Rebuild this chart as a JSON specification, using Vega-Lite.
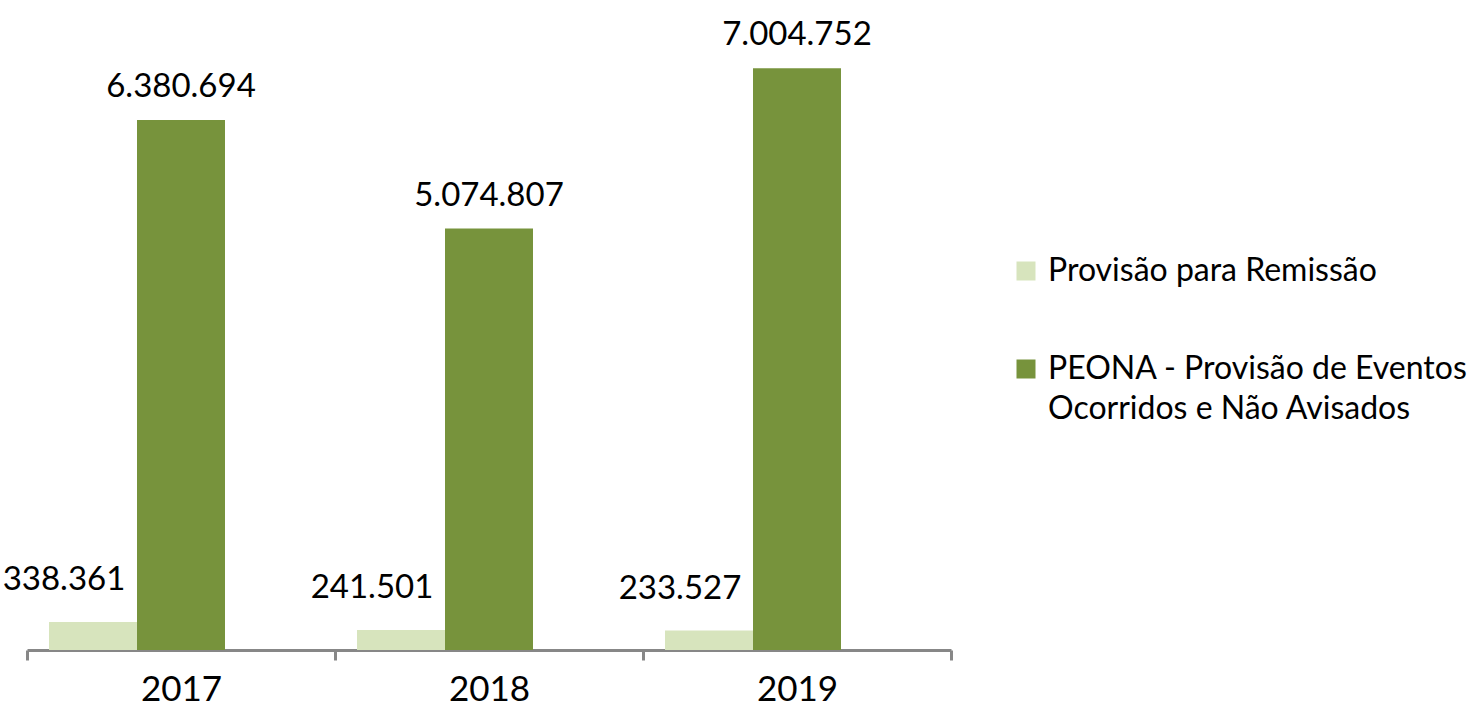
{
  "$schema": "https://vega.github.io/schema/vega-lite/v6.json",
  "autosize": {"type": "none"},
  "padding": {"left": 27, "top": 0, "right": 530, "bottom": 56},
  "width": 924,
  "height": 650,
  "background": "white",
  "config": {
    "view": {"stroke": null},
    "font": "Lato",
    "text": {"font": "Lato"},
    "style": {"guide-label": {"lineHeight": 40}}
  },
  "data": {
    "values": [
      {"ano": "2017", "serie": "Provisão para Remissão", "valor": 338361, "rotulo": "338.361"},
      {"ano": "2017", "serie": "PEONA - Provisão de Eventos Ocorridos e Não Avisados", "valor": 6380694, "rotulo": "6.380.694"},
      {"ano": "2018", "serie": "Provisão para Remissão", "valor": 241501, "rotulo": "241.501"},
      {"ano": "2018", "serie": "PEONA - Provisão de Eventos Ocorridos e Não Avisados", "valor": 5074807, "rotulo": "5.074.807"},
      {"ano": "2019", "serie": "Provisão para Remissão", "valor": 233527, "rotulo": "233.527"},
      {"ano": "2019", "serie": "PEONA - Provisão de Eventos Ocorridos e Não Avisados", "valor": 7004752, "rotulo": "7.004.752"}
    ]
  },
  "encoding": {
    "x": {
      "field": "ano", "type": "nominal",
      "scale": {"paddingInner": 0, "paddingOuter": 0},
      "axis": {
        "title": null, "labelAngle": 0, "labelFontSize": 35, "labelColor": "#000000",
        "labelPadding": 12, "domainColor": "#878787", "domainWidth": 3,
        "tickColor": "#878787", "tickWidth": 3, "tickSize": 10, "tickBand": "extent",
        "labelFont": "Lato"
      }
    },
    "xOffset": {
      "field": "serie", "type": "nominal",
      "scale": {"domain": ["Provisão para Remissão", "PEONA - Provisão de Eventos Ocorridos e Não Avisados", "vazio"], "paddingInner": 0, "paddingOuter": 0.25}
    },
    "y": {
      "field": "valor", "type": "quantitative",
      "scale": {"domain": [0, 7826000], "nice": false, "zero": true},
      "axis": null
    }
  },
  "layer": [
    {
      "mark": {"type": "bar"},
      "encoding": {
        "color": {
          "field": "serie", "type": "nominal",
          "scale": {"domain": ["Provisão para Remissão", "PEONA - Provisão de Eventos Ocorridos e Não Avisados"], "range": ["#d7e4bd", "#77933c"]},
          "legend": {
            "title": null, "orient": "none", "legendX": 983, "legendY": 255,
            "symbolType": "square", "symbolSize": 361, "symbolStrokeWidth": 0,
            "labelFontSize": 32, "labelColor": "#000000", "labelFont": "Lato",
            "labelLimit": 700, "labelOffset": 6, "rowPadding": 66,
            "labelExpr": "datum.label == 'Provisão para Remissão' ? datum.label : ['PEONA - Provisão de Eventos', 'Ocorridos e Não Avisados']"
          }
        }
      }
    },
    {
      "transform": [{"filter": "datum.serie == 'Provisão para Remissão'"}],
      "mark": {"type": "text", "baseline": "bottom", "dy": -25, "dx": -29, "fontSize": 33, "color": "#000000"},
      "encoding": {"text": {"field": "rotulo"}}
    },
    {
      "transform": [{"filter": "datum.serie != 'Provisão para Remissão'"}],
      "mark": {"type": "text", "baseline": "bottom", "dy": -16, "fontSize": 33, "color": "#000000"},
      "encoding": {"text": {"field": "rotulo"}}
    }
  ]
}
